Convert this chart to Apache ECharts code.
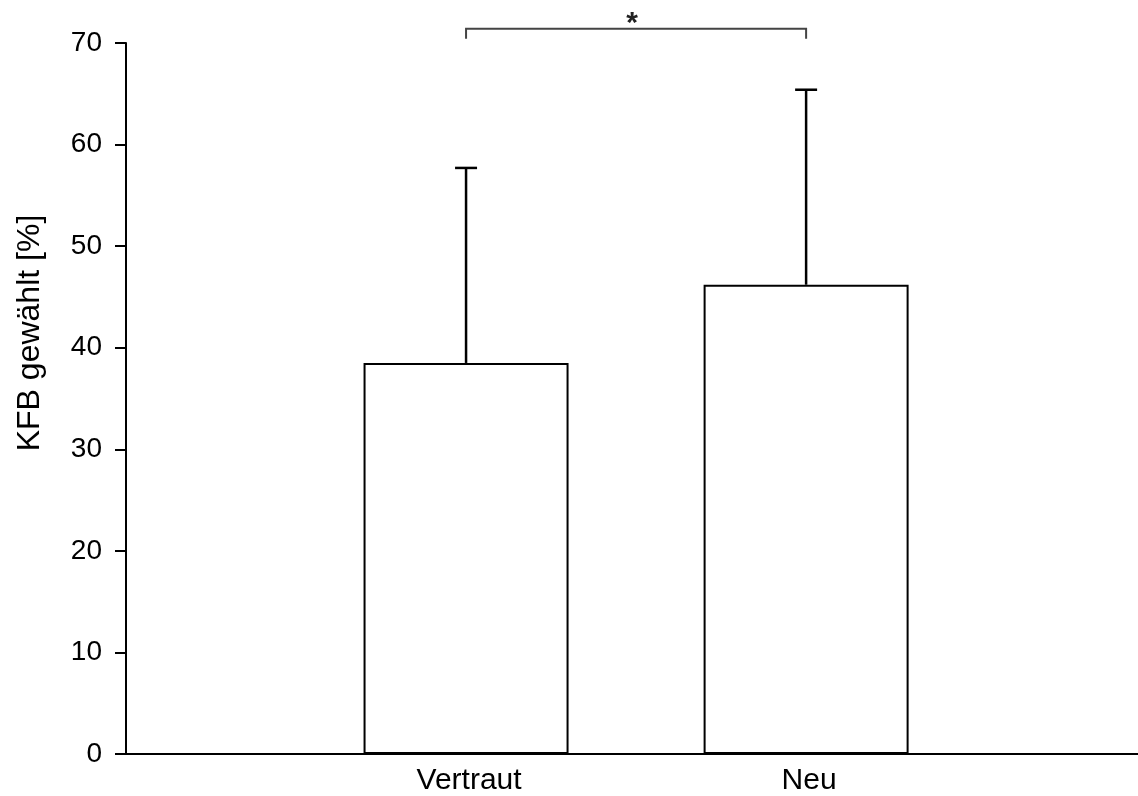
<!DOCTYPE html>
<html>
<head>
<meta charset="utf-8">
<script src="https://cdn.jsdelivr.net/npm/echarts@6/dist/echarts.min.js"></script>
<style>
  html, body { margin: 0; padding: 0; background: #fff; }
  #chart { width: 1138px; height: 796px; }
</style>
</head>
<body>
<div id="chart"></div>
<script>
const categories = ['Vertraut', 'Neu'];
const positions = [1, 2];
const means = [38.5, 46.2];
const errorTops = [57.7, 65.4];
const yTicks = [0, 10, 20, 30, 40, 50, 60, 70];
const sigPair = [1, 2];
const sigLevel = 71.4;
const sigLabel = '*';
const yTitle = 'KFB gewählt [%]';

const font = '"Liberation Sans", Arial, sans-serif';
const chart = echarts.init(document.getElementById('chart'));

const barData = positions.map((p, i) => [p, means[i]]);
const errData = positions.map((p, i) => [p, means[i], errorTops[i]]);

chart.setOption({
  animation: false,
  backgroundColor: '#fff',
  grid: { left: 126, right: 0, top: 43, bottom: 42 },
  // y title is placed a bit above the axis centre, as in the original
  graphic: [{
    type: 'text',
    x: 30,
    y: 333,
    rotation: Math.PI / 2,
    style: {
      text: yTitle,
      fill: '#000',
      font: '32px ' + font,
      align: 'center',
      verticalAlign: 'middle'
    }
  }],
  xAxis: {
    type: 'value',
    min: 0,
    max: 2.976,
    interval: 1,
    splitLine: { show: false },
    axisTick: { show: false },
    axisLine: { lineStyle: { color: '#000', width: 2 } },
    axisLabel: {
      color: '#000',
      fontSize: 30,
      fontFamily: font,
      margin: 12,
      padding: [0, 0, 0, 6],
      showMaxLabel: false,
      formatter: function (v) {
        const idx = positions.indexOf(Math.round(v * 1000) / 1000);
        return idx >= 0 ? categories[idx] : '';
      }
    }
  },
  yAxis: {
    type: 'value',
    min: yTicks[0],
    max: yTicks[yTicks.length - 1],
    interval: 10,
    splitLine: { show: false },
    axisLine: { show: true, lineStyle: { color: '#000', width: 2 } },
    axisTick: { show: true, length: 11, lineStyle: { color: '#000', width: 2 } },
    axisLabel: { color: '#000', fontSize: 28, fontFamily: font, margin: 24 }
  },
  series: [
    {
      type: 'bar',
      data: barData,
      barWidth: 205,
      itemStyle: { color: '#fff', borderColor: '#000', borderWidth: 2 },
      z: 2
    },
    {
      type: 'custom',
      data: errData,
      z: 3,
      renderItem: function (params, api) {
        const base = api.coord([api.value(0), api.value(1)]);
        const top = api.coord([api.value(0), api.value(2)]);
        const cap = 11;
        const style = { stroke: '#000', lineWidth: 2.5 };
        return {
          type: 'group',
          children: [
            { type: 'line', shape: { x1: base[0], y1: base[1], x2: top[0], y2: top[1] }, style: style },
            { type: 'line', shape: { x1: top[0] - cap, y1: top[1], x2: top[0] + cap, y2: top[1] }, style: style }
          ]
        };
      }
    },
    {
      type: 'custom',
      data: [[sigPair[0], sigPair[1], sigLevel]],
      z: 3,
      renderItem: function (params, api) {
        const a = api.coord([api.value(0), api.value(2)]);
        const b = api.coord([api.value(1), api.value(2)]);
        const drop = 10;
        return {
          type: 'group',
          children: [
            {
              type: 'polyline',
              shape: { points: [[a[0], a[1] + drop], [a[0], a[1]], [b[0], a[1]], [b[0], a[1] + drop]] },
              style: { stroke: '#444', lineWidth: 2, fill: null }
            },
            {
              type: 'text',
              x: (a[0] + b[0]) / 2 - 4,
              y: a[1] + 10,
              style: {
                text: sigLabel,
                fill: '#222',
                font: 'bold 30px ' + font,
                align: 'center',
                verticalAlign: 'bottom'
              }
            }
          ]
        };
      }
    }
  ]
});
</script>
</body>
</html>
